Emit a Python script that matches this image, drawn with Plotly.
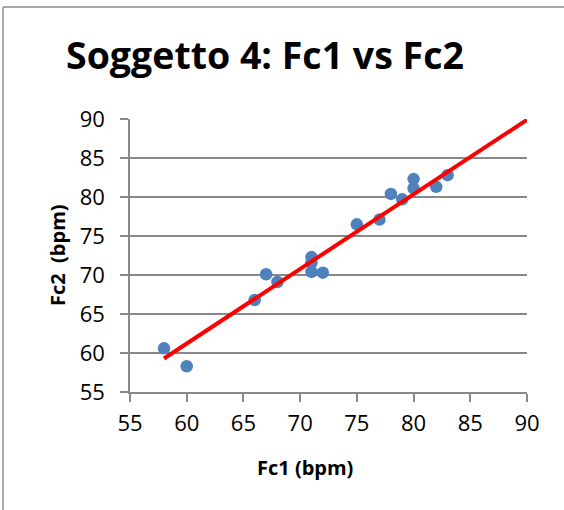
import plotly.graph_objects as go

# Heart-rate pairs for subject 4 (bpm)
fc1 = [58, 60, 66, 67, 68, 71, 71, 71, 72, 75, 77, 78, 79, 80, 80, 82, 83]
fc2 = [60.6, 58.3, 66.8, 70.1, 69.1, 72.3, 71.6, 70.4, 70.3, 76.5, 77.1, 80.4, 79.7, 82.3, 81.1, 81.3, 82.8]

# Linear trend line end points (bpm)
trend_fc1 = [58, 90]
trend_fc2 = [59.3, 89.9]

tick_vals = [55, 60, 65, 70, 75, 80, 85, 90]
axis_range = [55, 90]

title_text = "Soggetto 4: Fc1 vs Fc2"
x_title = "Fc1 (bpm)"
y_title = "Fc2 \u00a0(bpm)"

W, H = 564, 510
L, R, T, B = 130, 37, 119, 118
pw, ph = W - L - R, H - T - B


def px_x(px):
    return (px - L) / pw


def px_y(py):
    return (H - B - py) / ph


grid_col = "#898989"
font_fam = "'Open Sans', Lato, sans-serif"

fig = go.Figure()
fig.add_trace(go.Scatter(
    x=fc1, y=fc2, mode="markers",
    marker=dict(size=12.5, color="#4F81BD"),
    showlegend=False,
))
fig.add_trace(go.Scatter(
    x=trend_fc1, y=trend_fc2, mode="lines",
    line=dict(color="#FF0000", width=4),
    showlegend=False,
))

border = dict(color="#8c8c8c", width=1.5)

fig.update_layout(
    width=W, height=H,
    margin=dict(l=L, r=R, t=T, b=B),
    paper_bgcolor="white", plot_bgcolor="white",
    font=dict(family=font_fam, color="#000000", size=22),
    xaxis=dict(
        range=axis_range, tickvals=tick_vals, showgrid=False, zeroline=False,
        showline=True, linecolor=grid_col, linewidth=1.5,
        ticks="outside", ticklen=8, tickwidth=1.5, tickcolor=grid_col,
        tickfont=dict(size=22), ticklabelstandoff=3, fixedrange=True,
    ),
    yaxis=dict(
        range=axis_range, tickvals=tick_vals, showgrid=True, gridcolor=grid_col,
        gridwidth=1.5, zeroline=False,
        showline=True, linecolor=grid_col, linewidth=1.5,
        ticks="outside", ticklen=8, tickwidth=1.5, tickcolor=grid_col,
        tickfont=dict(size=22), ticklabelstandoff=11, fixedrange=True,
    ),
    shapes=[
        # chart-area frame: left and top edges
        dict(type="line", xref="paper", yref="paper",
             x0=px_x(3), x1=px_x(3), y0=px_y(H + 10), y1=px_y(7), line=border),
        dict(type="line", xref="paper", yref="paper",
             x0=px_x(3), x1=px_x(W + 10), y0=px_y(7), y1=px_y(7), line=border),
    ],
    annotations=[
        dict(text="<b>%s</b>" % title_text, xref="paper", yref="paper",
             x=px_x(265), y=px_y(55), xanchor="center", yanchor="middle",
             showarrow=False, font=dict(size=37.5, family=font_fam, color="#000000")),
        dict(text="<b>%s</b>" % x_title, xref="paper", yref="paper",
             x=px_x(305), y=px_y(467), xanchor="center", yanchor="middle",
             showarrow=False, font=dict(size=20, family=font_fam, color="#000000")),
        dict(text="<b>%s</b>" % y_title, xref="paper", yref="paper",
             x=px_x(57), y=px_y(255), xanchor="center", yanchor="middle",
             textangle=-90,
             showarrow=False, font=dict(size=20, family=font_fam, color="#000000")),
    ],
)

fig.write_html("out.html")
